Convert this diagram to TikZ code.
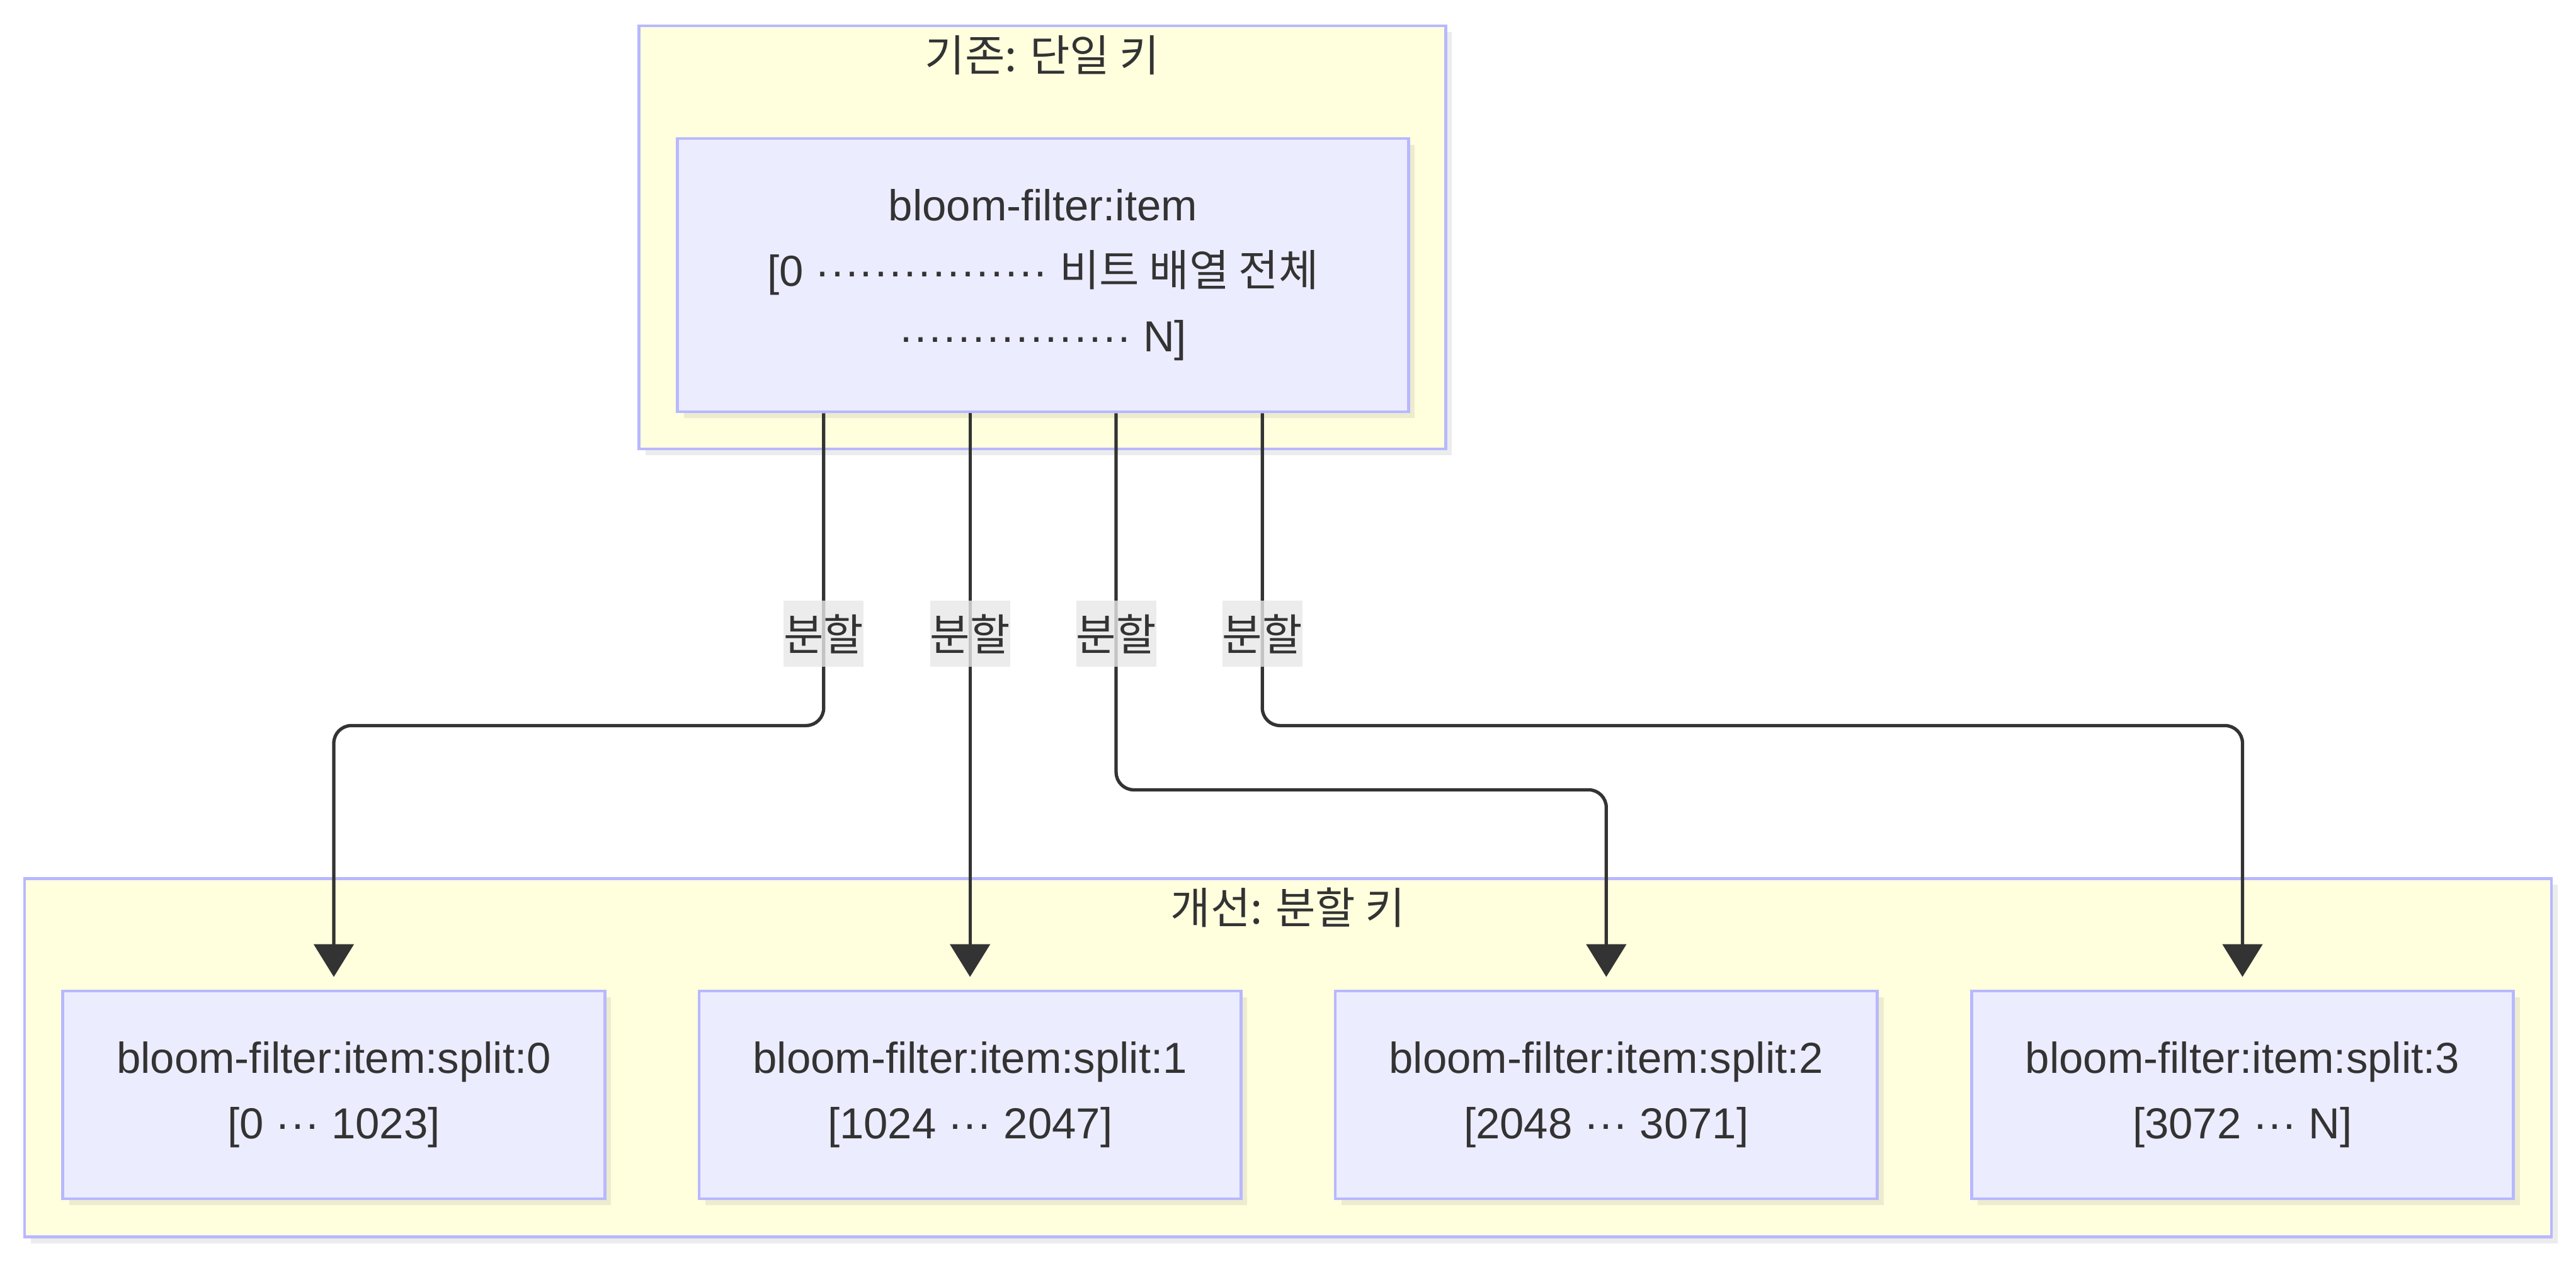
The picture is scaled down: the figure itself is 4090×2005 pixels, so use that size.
\documentclass[tikz,border=0pt]{standalone}
\usepackage{fontspec}
\setmainfont{Liberation Sans}
\newfontfamily\kr{Noto Sans CJK KR}
\usetikzlibrary{positioning,arrows.meta,shadows}
\definecolor{clusterbg}{HTML}{FFFFDE}
\definecolor{boxline}{HTML}{B8B8FF}
\definecolor{nodebg}{HTML}{ECECFF}
\definecolor{ink}{HTML}{333333}
\definecolor{labelbg}{HTML}{E8E8E8}
\newcommand\basesize{\fontsize{19.6pt}{29.6pt}\selectfont}
\newcommand\dotrun[1]{\foreach \k in {1,...,#1}{\makebox[0.23cm]{·}}}
\tikzset{
	x=0.01cm, y=-0.01cm, % one unit is one pixel of the picture, y runs down
	every node/.style={text=ink, font=\basesize}, % dark grey text everywhere
	boxshadow/.style={drop shadow={opacity=0.15, shadow xshift=0.1cm, shadow yshift=-0.1cm}}, % soft shadow under boxes
	cluster/.style={draw=boxline, line width=1.3pt, fill=clusterbg, boxshadow}, % the two yellow groups
	clustertitle/.style={font={\kr\basesize}}, % heading of a group
	keybox/.style={draw=boxline, line width=1.3pt, fill=nodebg, align=center, boxshadow,
		minimum width=8.6cm, minimum height=3.3cm}, % one redis key
	splitlabel/.style={fill=labelbg, fill opacity=0.8, text opacity=1, inner xsep=0pt, inner ysep=0pt,
		minimum height=1.05cm, font={\kr\basesize}}, % text on an edge
	flow/.style={draw=ink, line width=1.5pt, rounded corners=0.28cm,
		-{Triangle[width=0.63cm,length=0.52cm]}, shorten >=0.2cm}, % the edges
}
\begin{document}
\begin{tikzpicture}
	\fill[white] (0,0) rectangle (4090,2005);
	\useasboundingbox (0,0) rectangle (4090,2005);

	% groups
	\node[cluster, minimum width=12.8cm, minimum height=6.72cm] (before) at (1655,377) {};
	\node[clustertitle] (beforetitle) at ([yshift=-0.49cm]before.north) {기존: 단일 키};
	\node[cluster, minimum width=40.1cm, minimum height=5.69cm] (after) at (2045,1680) {};
	\node[clustertitle] (aftertitle) at ([yshift=-0.48cm]after.north) {개선: 분할 키};

	% keys
	\node[keybox, minimum width=11.6cm, minimum height=4.34cm] (item) at (1656,437)
		{bloom-filter:item\\{}[0 \dotrun{16} {\kr 비트 배열 전체}\\\dotrun{16} N]};
	\node[keybox] (s0) at (530,1739) {bloom-filter:item:split:0\\{}[0 \dotrun{3} 1023]};
	\node[keybox, right=1.45cm of s0] (s1) {bloom-filter:item:split:1\\{}[1024 \dotrun{3} 2047]};
	\node[keybox, right=1.45cm of s1] (s2) {bloom-filter:item:split:2\\{}[2048 \dotrun{3} 3071]};
	\node[keybox, right=1.45cm of s2] (s3) {bloom-filter:item:split:3\\{}[3072 \dotrun{3} N]};

	\draw[flow] ([xshift=-3.48cm]item.south) |- ([yshift=4.19cm]s0.north) -- (s0.north);
	\draw[flow] (s1.north |- item.south) -- (s1.north);
	\draw[flow] ([xshift=1.16cm]item.south) |- ([yshift=3.17cm]s2.north) -- (s2.north);
	\draw[flow] ([xshift=3.48cm]item.south) |- ([yshift=4.19cm]s3.north) -- (s3.north);

	\node[splitlabel] (l0) at ([xshift=-3.48cm,yshift=-3.5cm]item.south) {분할};
	\node[splitlabel] (l1) at ([yshift=-3.5cm]s1.north |- item.south) {분할};
	\node[splitlabel] (l2) at ([xshift=1.16cm,yshift=-3.5cm]item.south) {분할};
	\node[splitlabel] (l3) at ([xshift=3.48cm,yshift=-3.5cm]item.south) {분할};
\end{tikzpicture}
\end{document}
